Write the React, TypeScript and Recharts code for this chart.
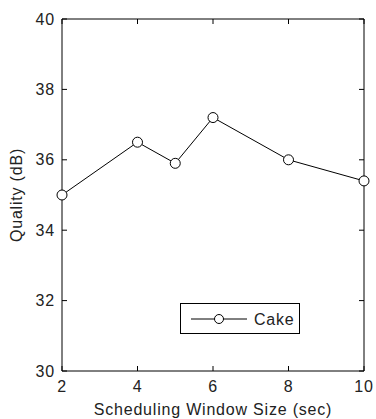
import React from 'react';
import { LineChart, Line, XAxis, YAxis, Legend } from 'recharts';

const windowSizes = [2, 4, 5, 6, 8, 10];
const cakeQuality = [35.0, 36.5, 35.9, 37.2, 36.0, 35.4];
const xTicks = [2, 4, 6, 8, 10];
const yTicks = [30, 32, 34, 36, 38, 40];

const data = windowSizes.map((w, i) => ({ w, cake: cakeQuality[i] }));

const FONT = '"Liberation Sans", Arial, sans-serif';
const textStyle = { fontFamily: FONT, fontSize: 16, letterSpacing: 0.8, fill: '#222' };
const TICK = 5; // inward tick length, matlab style

const LeftTick = ({ x, y, payload }: any) => (
  <g>
    <line x1={x} x2={x + TICK} y1={y} y2={y} stroke="#000" />
    <text x={x - 7} y={y} dy="0.35em" textAnchor="end" style={textStyle}>{payload.value}</text>
  </g>
);

const RightTick = ({ x, y }: any) => <line x1={x} x2={x - TICK} y1={y} y2={y} stroke="#000" />;

const BottomTick = ({ x, y, payload }: any) => (
  <g>
    <line x1={x} x2={x} y1={y} y2={y - TICK} stroke="#000" />
    <text x={x} y={y + 15} dy="0.35em" textAnchor="middle" style={textStyle}>{payload.value}</text>
  </g>
);

const TopTick = ({ x, y }: any) => <line x1={x} x2={x} y1={y} y2={y + TICK} stroke="#000" />;

const CakeLegend = () => (
  <div style={{ border: '1px solid #000', width: 120, height: 31, background: '#fff', boxSizing: 'border-box' }}>
    <svg width={118} height={29}>
      <line x1={10} x2={66} y1={15} y2={15} stroke="#000" />
      <circle cx={38} cy={15} r={4.5} fill="#fff" stroke="#000" />
      <text x={73} y={15} dy="0.35em" style={textStyle}>Cake</text>
    </svg>
  </div>
);

const App = () => (
  <div style={{ position: 'absolute', left: 0, top: 0, width: 376, height: 419, background: '#fff' }}>
    <LineChart width={376} height={419} data={data} margin={{ top: 18, right: 11, bottom: 0, left: 0 }}>
      <XAxis
        dataKey="w"
        type="number"
        domain={[2, 10]}
        ticks={xTicks}
        height={48}
        tickSize={0}
        tickMargin={0}
        tick={<BottomTick />}
        stroke="#000"
        label={{
          content: ({ viewBox }: any) => (
            <text x={viewBox.x + viewBox.width / 2} y={409} dy="0.35em" textAnchor="middle" style={textStyle}>
              Scheduling Window Size (sec)
            </text>
          ),
        }}
      />
      <XAxis
        xAxisId="top"
        orientation="top"
        dataKey="w"
        type="number"
        domain={[2, 10]}
        ticks={xTicks}
        height={1}
        tickSize={0}
        tickMargin={0}
        tick={<TopTick />}
        stroke="#000"
      />
      <YAxis
        domain={[30, 40]}
        ticks={yTicks}
        width={62}
        tickSize={0}
        tickMargin={0}
        tick={<LeftTick />}
        stroke="#000"
        label={{
          content: ({ viewBox }: any) => {
            const cy = viewBox.y + viewBox.height / 2;
            return (
              <text x={16} y={cy} dy="0.35em" textAnchor="middle" transform={`rotate(-90 16 ${cy})`} style={textStyle}>
                Quality (dB)
              </text>
            );
          },
        }}
      />
      <YAxis
        yAxisId="right"
        orientation="right"
        domain={[30, 40]}
        ticks={yTicks}
        width={1}
        tickSize={0}
        tickMargin={0}
        tick={<RightTick />}
        stroke="#000"
      />
      <Legend
        layout="horizontal"
        verticalAlign="middle"
        align="center"
        content={<CakeLegend />}
        wrapperStyle={{ position: 'absolute', left: 180, top: 303, width: 'auto' }}
      />
      <Line
        dataKey="cake"
        name="Cake"
        stroke="#000"
        strokeWidth={1}
        isAnimationActive={false}
        dot={{ r: 5, fill: '#fff', stroke: '#000', strokeWidth: 1 }}
        activeDot={false}
      />
      {/* hidden copy so the top/right axes get their ticks */}
      <Line
        xAxisId="top"
        yAxisId="right"
        dataKey="cake"
        stroke="none"
        dot={false}
        activeDot={false}
        legendType="none"
        isAnimationActive={false}
      />
    </LineChart>
  </div>
);

export default App;
